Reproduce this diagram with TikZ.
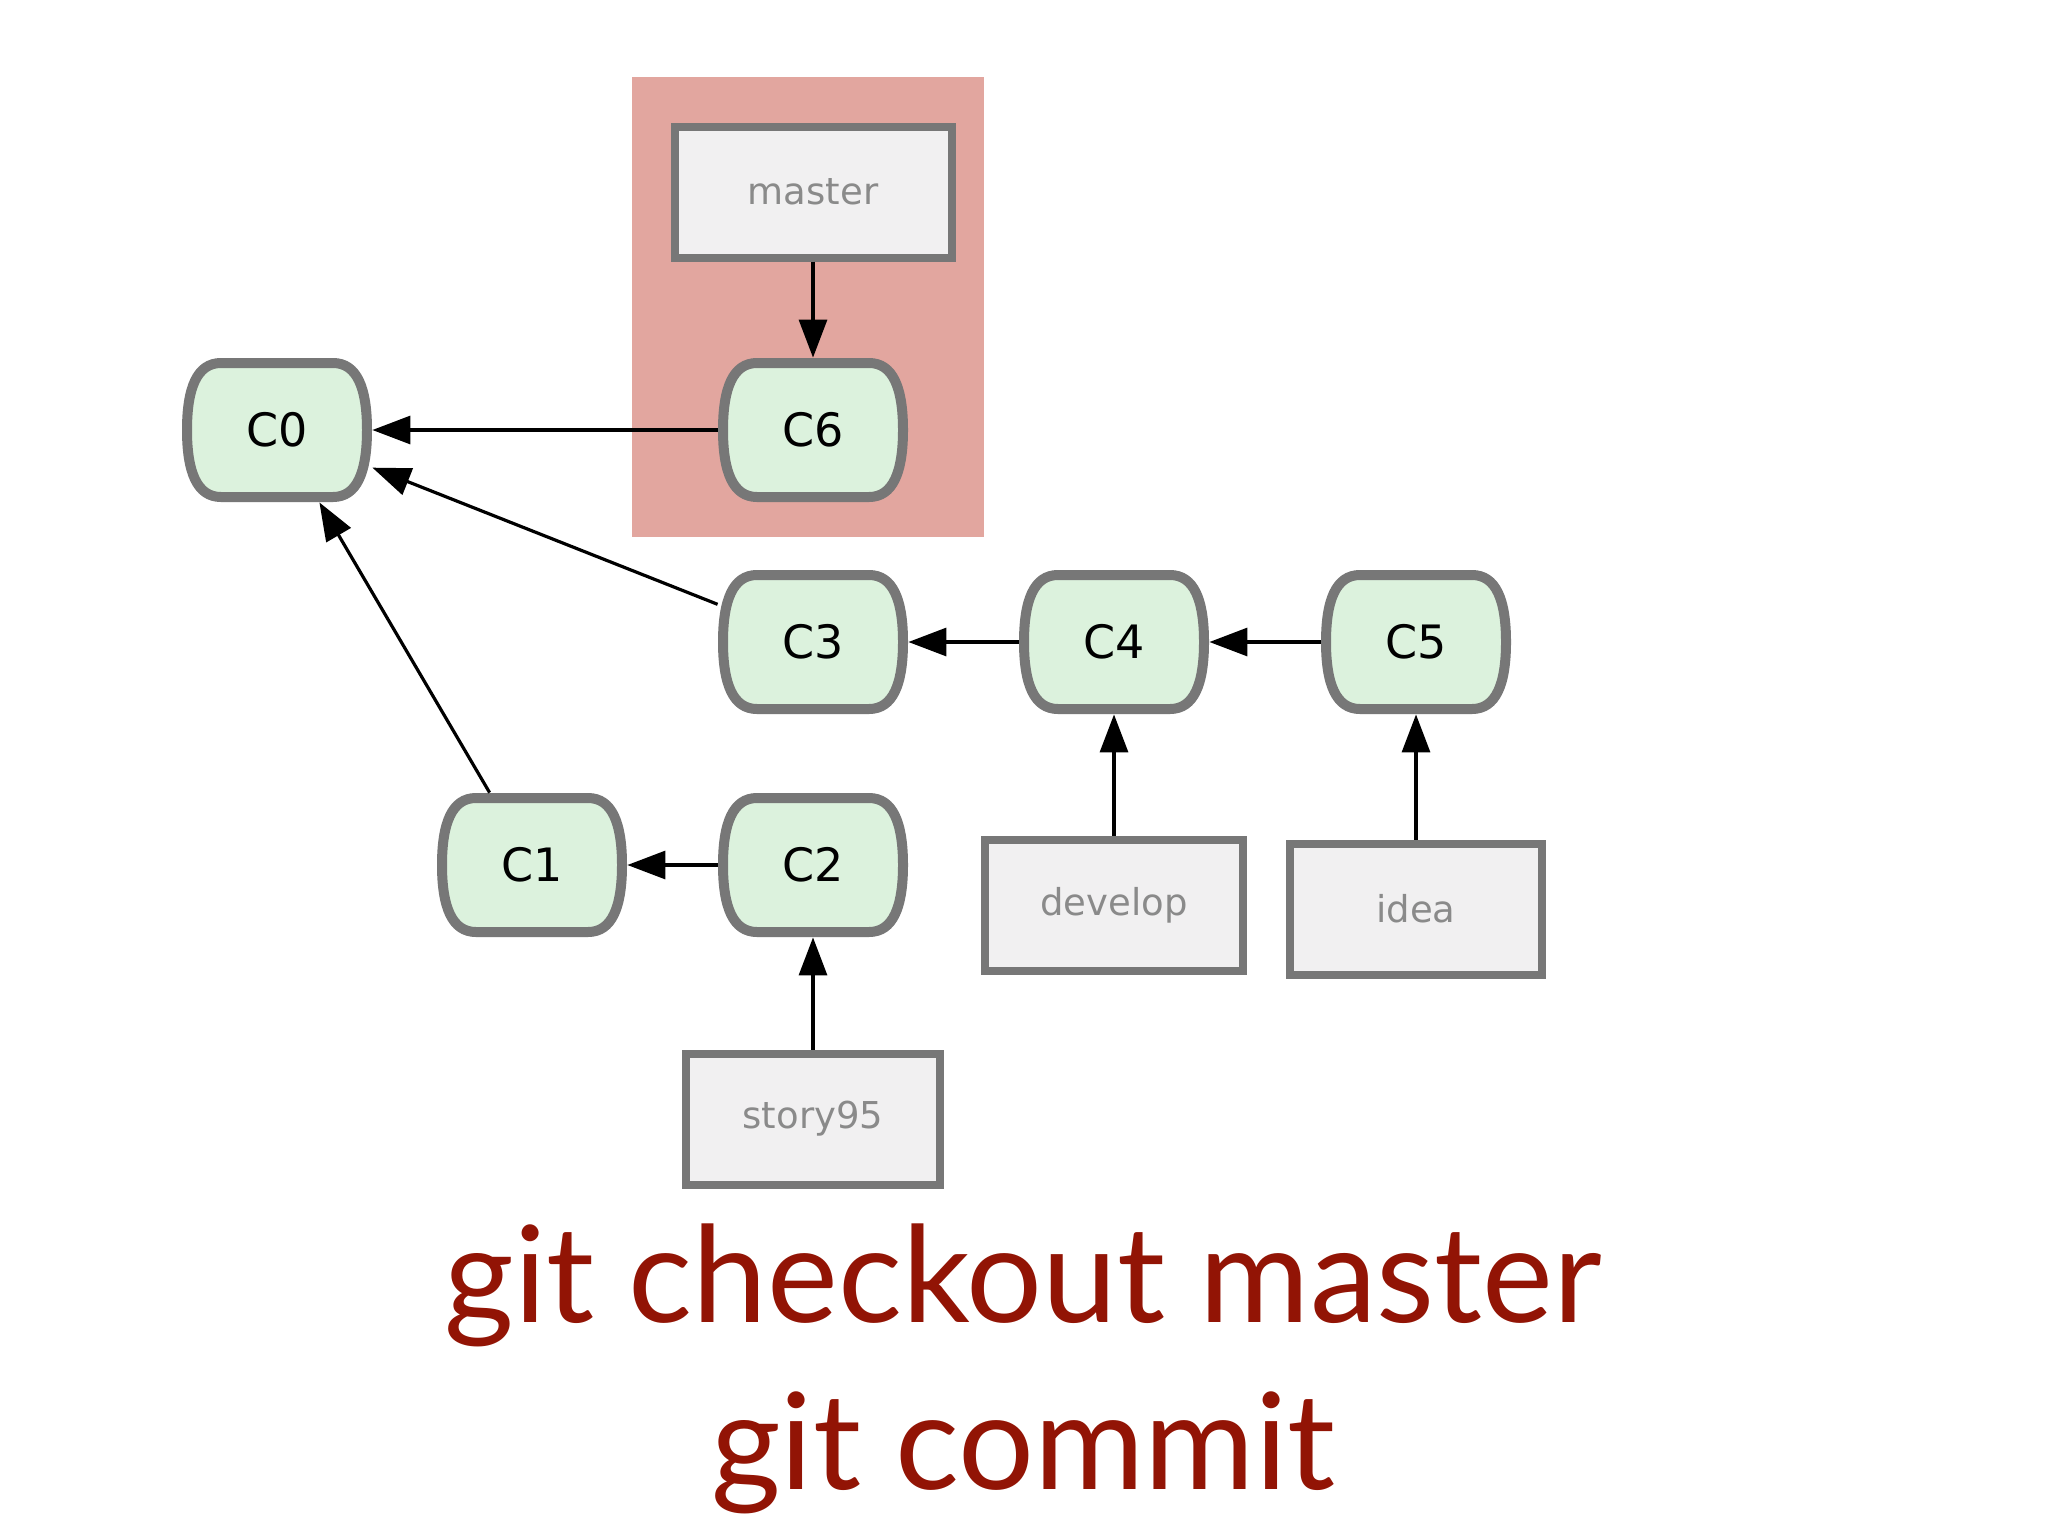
\documentclass[tikz,border=0pt]{standalone}
\usepackage{fontspec}
\setmainfont{DejaVu Sans}
\newfontfamily\titlefont{Lato}
\usetikzlibrary{arrows.meta}
\definecolor{commitfill}{RGB}{220,242,221}
\definecolor{edgegray}{RGB}{119,119,119}
\definecolor{boxfill}{RGB}{241,240,241}
\definecolor{hlred}{RGB}{226,166,159}
\definecolor{titlered}{RGB}{146,20,5}
\definecolor{labelgray}{RGB}{138,138,138}
\tikzset{
  commitline/.style={draw=edgegray, fill=commitfill, line width=5pt},
  commit/.style={draw=none, minimum width=95pt, minimum height=72pt, inner sep=0pt, font=\fontsize{23}{26}\selectfont, text=black},
  branch/.style={draw=edgegray, fill=boxfill, line width=4pt, minimum height=65.5pt, inner sep=0pt, font=\fontsize{18.5}{21}\selectfont, text=labelgray},
  link/.style={draw=black, line width=1.6pt, -{Triangle[length=19pt,width=14pt]}},
  titletext/.style={font=\titlefont\fontsize{67}{80}\selectfont, text=titlered, inner sep=0pt, anchor=base}
}
\begin{document}
\begin{tikzpicture}[x=0.5pt,y=-0.5pt]
\useasboundingbox (0,0) rectangle (2048,1536);
\fill[white] (0,0) rectangle (2048,1536);
% highlight
\fill[hlred] (632,77) rectangle (984,537);
% commits
\foreach \n/\x/\y in {C0/277/430, C6/813/430, C3/813/642, C4/1114/642, C5/1416/642, C1/532/865, C2/813/865} {
  \begin{scope}[shift={(\x,\y)}]
    \draw[commitline] (-56,-67) -- (56,-67) .. controls (80,-67) and (90,-42) .. (90,0) .. controls (90,42) and (80,67) .. (56,67) -- (-56,67) .. controls (-80,67) and (-90,42) .. (-90,0) .. controls (-90,-42) and (-80,-67) .. (-56,-67) -- cycle;
    \node[commit] (\n) at (0,0) {\n};
  \end{scope}
}
% branches
\node[branch, minimum width=138.5pt] (master) at (813,192) {master};
\node[branch, minimum width=129pt] (develop) at (1114,905) {develop};
\node[branch, minimum width=126pt] (idea) at (1416,909) {idea};
\node[branch, minimum width=127pt] (story95) at (813,1119) {story95};
% connectors
\draw[link] (master) -- (C6);
\draw[link] (C6) -- (C0);
\draw[link] (C3) -- (C0);
\draw[link] (C1) -- (C0);
\draw[link] (C4) -- (C3);
\draw[link] (C5) -- (C4);
\draw[link] (C2) -- (C1);
\draw[link] (develop) -- (C4);
\draw[link] (idea) -- (C5);
\draw[link] (story95) -- (C2);
% title
\node[titletext] (t1) at (1023,1322) {git checkout master};
\node[titletext] (t2) at (1023,1489) {git commit};
\end{tikzpicture}
\end{document}
